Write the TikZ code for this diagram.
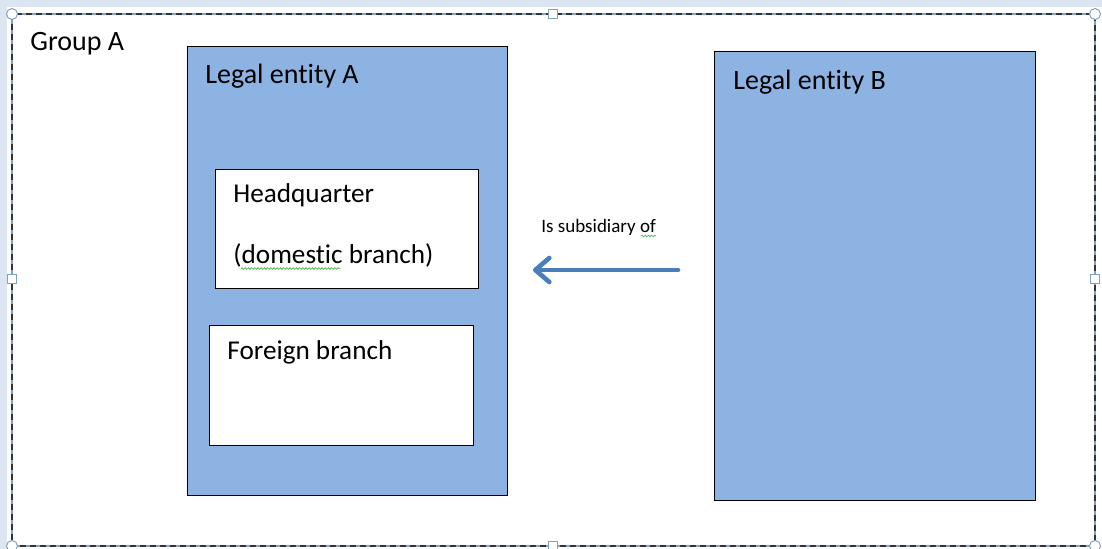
\documentclass[tikz,border=0pt]{standalone}
\usepackage{fontspec}
\setmainfont{Carlito}[RawFeature={-liga;-clig;-calt;-dlig}]
\usetikzlibrary{arrows.meta,decorations.pathmorphing}
\definecolor{boxblue}{RGB}{141,179,226}
\definecolor{arrowblue}{RGB}{74,126,187}
\definecolor{pane}{RGB}{220,230,242}
\definecolor{handleline}{RGB}{130,160,195}
\definecolor{spell}{RGB}{90,190,90}
\tikzset{
  entity/.style={draw=black, line width=0.6pt, fill=boxblue, anchor=north west, inner sep=0pt},
  unit/.style={draw=black, line width=0.6pt, fill=white, anchor=north west, inner sep=0pt},
  label/.style={anchor=base west, inner sep=0pt, font=\fontsize{14}{16}\selectfont},
  unitlabel/.style={anchor=base west, inner sep=0pt, font=\fontsize{13.6}{16}\selectfont},
  small/.style={anchor=base west, inner sep=0pt, font=\fontsize{9.5}{11}\selectfont},
  squiggle/.style={draw=spell, line width=0.4pt, decorate, decoration={snake, segment length=1.6pt, amplitude=0.4pt}},
  cornerhandle/.style={circle, draw=handleline, fill=white, line width=0.5pt, minimum size=5.5pt, inner sep=0pt},
  sidehandle/.style={rectangle, draw=handleline, fill=white, line width=0.5pt, minimum size=4.5pt, inner sep=0pt},
}
\begin{document}
\begin{tikzpicture}[x=0.5pt, y=-0.5pt]
  % canvas and window background
  \fill[pane] (0,0) rectangle (1102,549);
  \fill[white] (7,7) rectangle (1102,549);
  \useasboundingbox (0,0) rectangle (1102,549);

  % group frame (selected, dashed)
  \draw[handleline, line width=0.6pt] (12,14) rectangle (1095,546);
  \draw[black!80, line width=0.6pt, dash pattern=on 3pt off 2pt] (12,14) rectangle (1095,546);
  \node[label] (groupA) at (30,51) {Group A};

  % legal entities
  \node[entity, minimum width=160pt, minimum height=224.5pt] (entA) at (187,46) {};
  \node[entity, minimum width=160.5pt, minimum height=224.5pt] (entB) at (714,51) {};
  \node[label] (entAlabel) at (205,84) {Legal entity A};
  \node[label] (entBlabel) at (733,90) {Legal entity B};

  % branches of entity A
  \node[unit, minimum width=131.5pt, minimum height=59.5pt] (hq) at (215,169) {};
  \node[unitlabel] (hqline1) at (233,203) {Headquarter};
  \node[unitlabel] (hqline2) at (233,264) {(domestic branch)};
  \node[unit, minimum width=132pt, minimum height=60pt] (foreign) at (209,325) {};
  \node[unitlabel] (foreignlabel) at (227,360) {Foreign branch};

  % relation arrow
  \coordinate (relfrom) at (678,270);
  \coordinate (relto) at (533,270);
  \draw[arrowblue, line width=2.3pt, line cap=round, line join=round,
        -{Straight Barb[length=7pt, width=12pt, round]}] (relfrom) -- (relto);
  \node[small] (rellabel) at (541,233) {Is subsidiary of};

  % spell-check marks
  \draw[squiggle] (241,268.5) -- (340,268.5);
  \draw[squiggle] (641,236) -- (656,236);

  % selection handles
  \foreach \p in {(12,14),(1095,14),(12,546),(1095,546)}
    \node[cornerhandle] at \p {};
  \foreach \p in {(553,14),(553,546),(12,279),(1095,279)}
    \node[sidehandle] at \p {};
\end{tikzpicture}
\end{document}
